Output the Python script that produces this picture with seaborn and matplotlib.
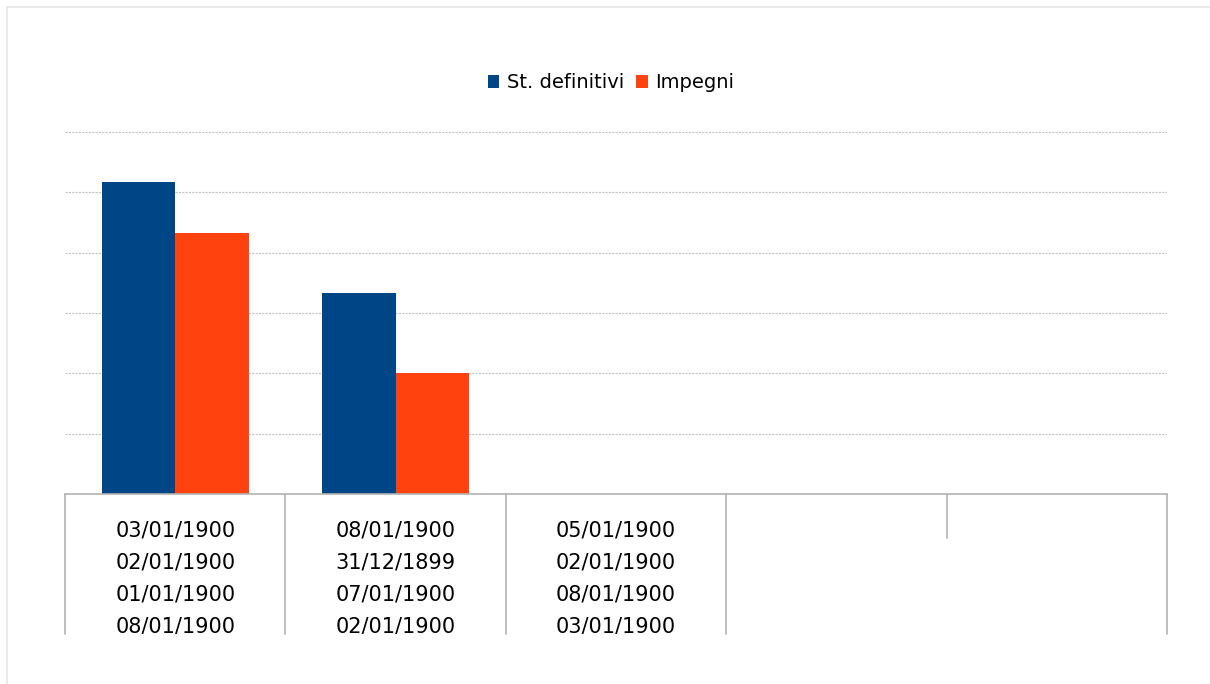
import numpy as np
import pandas as pd
import matplotlib
matplotlib.use("Agg")
import matplotlib.pyplot as plt
import seaborn as sns
from matplotlib.lines import Line2D
from matplotlib.patches import Patch
from matplotlib.transforms import Bbox, TransformedBbox, blended_transform_factory

# Data
categories = ["A", "B", "C", "D", "E"]
tick_labels = [
    ["03/01/1900", "02/01/1900", "01/01/1900", "08/01/1900"],
    ["08/01/1900", "31/12/1899", "07/01/1900", "02/01/1900"],
    ["05/01/1900", "02/01/1900", "08/01/1900", "03/01/1900"],
    [],
    [],
]
st_definitivi = [5.17, 3.33, 0, 0, 0]
impegni = [4.33, 2.0, 0, 0, 0]
series_names = ["St. definitivi", "Impegni"]
colors = ["#004586", "#ff420e"]

sns.set_theme(style="white")
plt.rcParams["font.family"] = ["DejaVu Sans"]

df = pd.DataFrame({
    "cat": categories * 2,
    "value": st_definitivi + impegni,
    "series": [series_names[0]] * 5 + [series_names[1]] * 5,
})

fig = plt.figure(figsize=(12.1, 6.84), dpi=100)
ax = fig.add_axes([65 / 1210, 1 - 494 / 684, (1167 - 65) / 1210, (494 - 132) / 684])

sns.barplot(data=df, x="cat", y="value", hue="series", palette=colors,
            width=0.667, saturation=1, ax=ax, legend=False)
for p in ax.patches:
    p.set_edgecolor("none")

ax.set_xlim(-0.5, 4.5)
ax.set_ylim(0, 6)
ax.set_yticks(np.arange(1, 7))
ax.set_yticklabels([])
ax.yaxis.grid(True, color="#c4c4c4", linestyle=(0, (2, 1)), linewidth=0.8)
ax.set_axisbelow(True)
ax.set_xlabel("")
ax.set_ylabel("")
for s in ["top", "left", "right"]:
    ax.spines[s].set_visible(False)
ax.spines["bottom"].set_color("#b3b3b3")
ax.spines["bottom"].set_linewidth(1.2)
ax.tick_params(axis="both", length=0)

# multi-line category labels, clipped at the bottom like the reference
ax.set_xticks(range(len(categories)))
ax.set_xticklabels(["\n".join(t) for t in tick_labels])
clip = TransformedBbox(Bbox([[0, 50 / 684], [1, 1]]), fig.transFigure)
for t in ax.get_xticklabels():
    t.set_fontsize(15)
    t.set_linespacing(1.75)
    t.set_color("black")
    t.set_clip_box(clip)
    t.set_clip_on(True)
ax.tick_params(axis="x", pad=19)

# category separator lines below the axis
trans = blended_transform_factory(ax.transData, ax.transAxes)
sep_ends = [-0.387, -0.387, -0.387, -0.387, -0.1215, -0.387]
for i, end in enumerate(sep_ends):
    ax.add_line(Line2D([i - 0.5, i - 0.5], [0, end], transform=trans,
                       color="#b3b3b3", linewidth=1.2, clip_on=False))

# legend
handles = [Patch(facecolor=c, edgecolor="none") for c in colors]
leg = fig.legend(handles, series_names, loc="center", bbox_to_anchor=(0.505, 1 - 83 / 684),
                 ncol=2, frameon=False, fontsize=14, handlelength=0.6, handleheight=0.6,
                 handletextpad=0.4, columnspacing=0.6)
for t in leg.get_texts():
    t.set_color("black")

# faint outer frame (top and left edges visible)
fig.add_artist(Line2D([6.5 / 1210, 1], [1 - 7 / 684] * 2, transform=fig.transFigure,
                      color="#e6e6e6", linewidth=1.2))
fig.add_artist(Line2D([6.5 / 1210] * 2, [0, 1 - 7 / 684], transform=fig.transFigure,
                      color="#e6e6e6", linewidth=1.2))

fig.savefig("out.png", dpi=100, facecolor="white")
